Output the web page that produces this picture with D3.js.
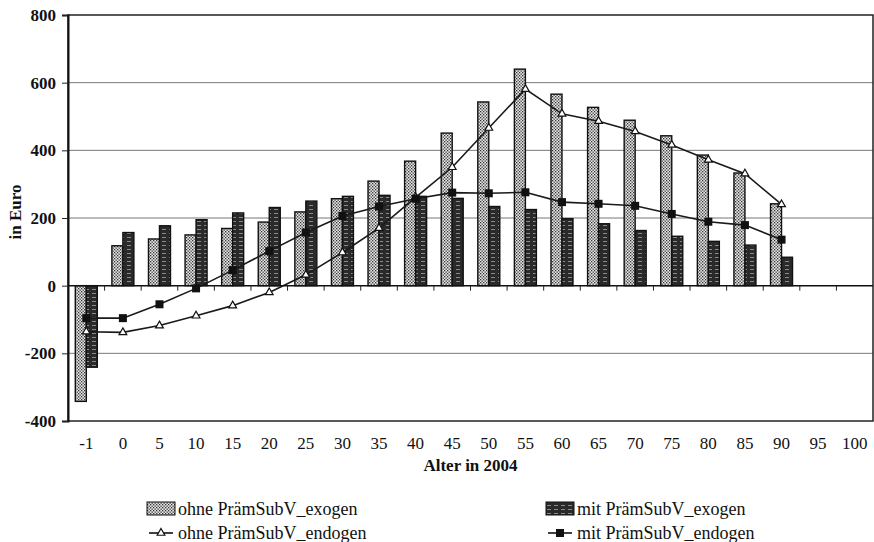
<!DOCTYPE html>
<html>

<head>
    <title>PrämSubV</title>
    <script src="https://cdn.jsdelivr.net/npm/d3@7"></script>
    <style>
        body { margin: 0; background: #fff; }
    </style>
</head>

<body>
    <svg width="874" height="542" id="mainsvg"></svg>
    <script>
        const ages = ['-1', '0', '5', '10', '15', '20', '25', '30', '35', '40', '45', '50', '55', '60', '65', '70', '75', '80', '85', '90', '95', '100'];
        const ohneExogen = [-342, 118, 138, 150, 169, 188, 218, 257, 309, 368, 451, 543, 640, 566, 527, 489, 443, 386, 333, 242, null, null];
        const mitExogen = [-241, 157, 177, 195, 215, 231, 250, 264, 267, 264, 258, 234, 225, 198, 183, 163, 146, 131, 120, 84, null, null];
        const ohneEndogen = [-136, -138, -118, -89, -59, -20, 32, 98, 170, 261, 350, 466, 581, 508, 486, 456, 416, 372, 331, 240, null, null];
        const mitEndogen = [-96, -96, -55, -8, 46, 102, 157, 206, 234, 257, 275, 273, 276, 247, 242, 236, 212, 189, 179, 136, null, null];
        const yTicks = [-400, -200, 0, 200, 400, 600, 800];

        const svg = d3.select('svg');
        const plotL = 68, plotR = 873, plotT = 15, plotB = 421;
        const serif = '"Liberation Serif", "Times New Roman", serif';

        const x = d3.scaleBand().domain(ages).range([plotL, plotR]);
        const y = d3.scaleLinear().domain([-400, 800]).range([plotB, plotT]);
        const barW = 11;

        // fill patterns
        const defs = svg.append('defs');
        const dots = defs.append('pattern').attr('id', 'dots').attr('patternUnits', 'userSpaceOnUse')
            .attr('width', 3).attr('height', 3);
        dots.append('rect').attr('width', 3).attr('height', 3).attr('fill', '#e6e6e6');
        dots.append('rect').attr('x', 0).attr('y', 0).attr('width', 1.3).attr('height', 1.3).attr('fill', '#333');
        dots.append('rect').attr('x', 1.5).attr('y', 1.5).attr('width', 1.3).attr('height', 1.3).attr('fill', '#333');

        const stripes = defs.append('pattern').attr('id', 'stripes').attr('patternUnits', 'userSpaceOnUse')
            .attr('width', 7).attr('height', 4);
        stripes.append('rect').attr('width', 7).attr('height', 4).attr('fill', '#2a2a2a');
        stripes.append('rect').attr('x', 1).attr('y', 1).attr('width', 4).attr('height', 1).attr('fill', '#8a8a8a');

        // grid lines
        svg.append('g').selectAll('line').data(yTicks.filter(d => d !== 0 && d !== 800 && d !== -400)).join('line')
            .attr('x1', plotL).attr('x2', plotR).attr('y1', d => y(d)).attr('y2', d => y(d))
            .attr('stroke', '#777').attr('stroke-width', 1);

        // frame
        svg.append('rect').attr('x', plotL).attr('y', plotT).attr('width', plotR - plotL).attr('height', plotB - plotT)
            .attr('fill', 'none').attr('stroke', '#222').attr('stroke-width', 1.5);

        // y axis
        const yAxis = svg.append('g').attr('transform', `translate(${plotL},0)`)
            .call(d3.axisLeft(y).tickValues(yTicks).tickFormat(d => String(d)).tickSize(6).tickPadding(6));
        yAxis.select('.domain').attr('stroke', '#111').attr('stroke-width', 2);
        yAxis.selectAll('line').attr('stroke', '#222');
        yAxis.selectAll('text').attr('font-family', serif).attr('font-size', 17).attr('font-weight', 'bold').attr('fill', '#111');

        // bars
        const rows = ages.map((a, i) => ({ age: a, oe: ohneExogen[i], me: mitExogen[i], on: ohneEndogen[i], mn: mitEndogen[i] }));
        const barRect = (sel, key, dx, fill) => sel
            .attr('x', d => x(d.age) + x.bandwidth() / 2 + dx)
            .attr('width', barW)
            .attr('y', d => y(Math.max(0, d[key])))
            .attr('height', d => Math.abs(y(d[key]) - y(0)))
            .attr('fill', fill).attr('stroke', '#111').attr('stroke-width', 1.4);

        const barRows = rows.filter(d => d.oe !== null);
        svg.append('g').selectAll('rect').data(barRows).join('rect').call(barRect, 'oe', -barW, 'url(#dots)');
        svg.append('g').selectAll('rect').data(barRows).join('rect').call(barRect, 'me', 0, 'url(#stripes)');

        // x axis line at zero, ticks at band boundaries
        svg.append('line').attr('x1', plotL).attr('x2', plotR).attr('y1', y(0)).attr('y2', y(0))
            .attr('stroke', '#111').attr('stroke-width', 1.5);
        svg.append('g').selectAll('line').data(ages.slice(1)).join('line')
            .attr('x1', d => x(d)).attr('x2', d => x(d)).attr('y1', y(0)).attr('y2', y(0) + 5)
            .attr('stroke', '#222').attr('stroke-width', 1);

        // x labels at the bottom
        const xAxis = svg.append('g').attr('transform', `translate(0,${plotB})`)
            .call(d3.axisBottom(x).tickSize(0).tickPadding(16));
        xAxis.select('.domain').remove();
        xAxis.selectAll('text').attr('font-family', serif).attr('font-size', 17).attr('fill', '#111');

        // lines
        const line = key => d3.line()
            .defined(d => d[key] !== null)
            .x(d => x(d.age) + x.bandwidth() / 2)
            .y(d => y(d[key]));

        svg.append('path').datum(rows).attr('d', line('on'))
            .attr('fill', 'none').attr('stroke', '#1a1a1a').attr('stroke-width', 1.6);
        svg.append('path').datum(rows).attr('d', line('mn'))
            .attr('fill', 'none').attr('stroke', '#1a1a1a').attr('stroke-width', 1.6);

        const tri = d3.symbol().type(d3.symbolTriangle).size(26);
        svg.append('g').selectAll('path').data(rows.filter(d => d.on !== null)).join('path')
            .attr('transform', d => `translate(${x(d.age) + x.bandwidth() / 2},${y(d.on)})`)
            .attr('d', tri).attr('fill', '#fff').attr('stroke', '#111').attr('stroke-width', 1.2);
        svg.append('g').selectAll('rect').data(rows.filter(d => d.mn !== null)).join('rect')
            .attr('x', d => x(d.age) + x.bandwidth() / 2 - 4).attr('y', d => y(d.mn) - 4)
            .attr('width', 8).attr('height', 8).attr('fill', '#111');

        // axis titles
        svg.append('text').attr('x', (plotL + plotR) / 2).attr('y', 471).attr('text-anchor', 'middle')
            .attr('font-family', serif).attr('font-size', 17).attr('font-weight', 'bold').attr('fill', '#111')
            .text('Alter in 2004');
        svg.append('text').attr('transform', 'translate(21,212) rotate(-90)').attr('text-anchor', 'middle')
            .attr('font-family', serif).attr('font-size', 17).attr('font-weight', 'bold').attr('fill', '#111')
            .text('in Euro');

        // legend
        const legend = svg.append('g').attr('font-family', serif).attr('font-size', 18).attr('fill', '#111');
        const items = [
            { label: 'ohne PrämSubV_exogen', kind: 'bar', fill: 'url(#dots)', lx: 147, ly: 509 },
            { label: 'mit PrämSubV_exogen', kind: 'bar', fill: 'url(#stripes)', lx: 546, ly: 509 },
            { label: 'ohne PrämSubV_endogen', kind: 'tri', lx: 147, ly: 533 },
            { label: 'mit PrämSubV_endogen', kind: 'sq', lx: 546, ly: 533 }
        ];
        items.forEach(it => {
            const g = legend.append('g');
            if (it.kind === 'bar') {
                g.append('rect').attr('x', it.lx).attr('y', it.ly - 7).attr('width', 28).attr('height', 13)
                    .attr('fill', it.fill).attr('stroke', '#111').attr('stroke-width', 1);
            } else {
                g.append('line').attr('x1', it.lx + 2).attr('x2', it.lx + 26).attr('y1', it.ly).attr('y2', it.ly)
                    .attr('stroke', '#111').attr('stroke-width', 1.6);
                if (it.kind === 'tri') {
                    g.append('path').attr('transform', `translate(${it.lx + 14},${it.ly})`).attr('d', tri)
                        .attr('fill', '#fff').attr('stroke', '#111').attr('stroke-width', 1.2);
                } else {
                    g.append('rect').attr('x', it.lx + 10).attr('y', it.ly - 4).attr('width', 8).attr('height', 8).attr('fill', '#111');
                }
            }
            g.append('text').attr('x', it.lx + 31).attr('y', it.ly + 6).text(it.label);
        });
    </script>
</body>

</html>
